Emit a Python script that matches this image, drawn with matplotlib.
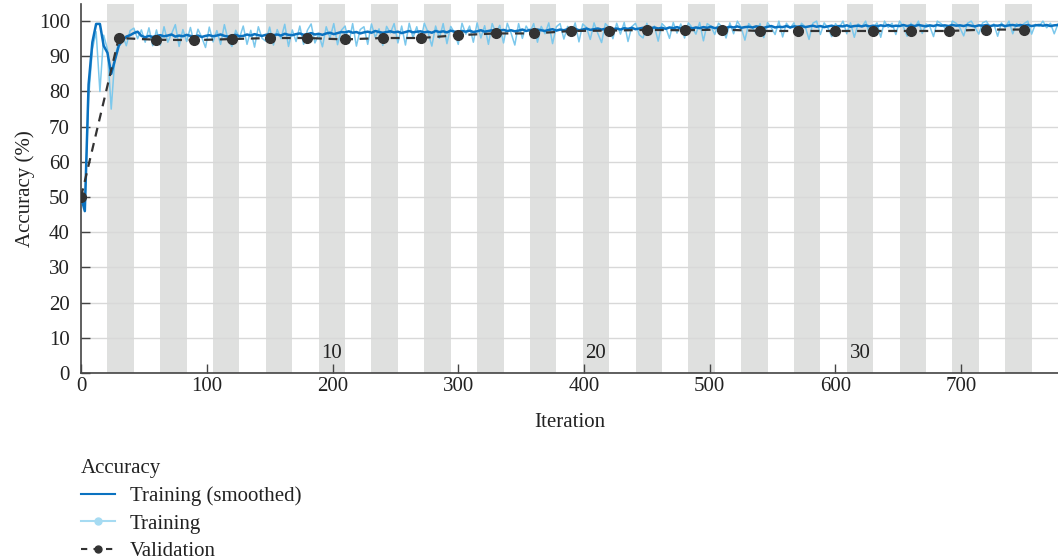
import numpy as np
import matplotlib
matplotlib.use("Agg")
import matplotlib.pyplot as plt
from matplotlib.lines import Line2D

# training accuracy sampled every 3 iterations (0, 3, ..., 777)
train_raw = [
    50, 47, 78, 92, 97, 80, 96, 92, 75, 90,
    94, 96.1, 93, 97.3, 98, 95, 97.5, 94, 98.1, 93,
    97.5, 93.2, 98.4, 94, 96.4, 99, 92.8, 97.6, 94.2, 98.2,
    93.6, 97.7, 95.4, 92.5, 98.3, 94.1, 97.3, 93.4, 99, 94.6,
    92.8, 97.4, 95.2, 98.6, 93.4, 97.4, 92.6, 98.4, 95.1, 94.3,
    98.3, 93.2, 97.6, 95, 99.1, 92.8, 97.5, 94.2, 98.6, 93.4,
    97.4, 99.2, 93.8, 96.3, 92.7, 98.4, 95.2, 99.3, 93.3, 97.4,
    98.6, 93.7, 99.3, 92.9, 97.6, 98.4, 93.4, 99.2, 95.4, 97.8,
    93.1, 98.5, 96.6, 99.3, 93.8, 98.6, 93.2, 99.4, 95.3, 98.4,
    94.1, 99.4, 96.8, 92.9, 98.6, 95.1, 99.3, 93.6, 98.5, 96.7,
    93.4, 99.4, 96.3, 98.6, 94, 99.5, 95.2, 98.7, 93.4, 99.3,
    96.6, 98.8, 93.8, 99.4, 96.6, 93.2, 99.3, 95.1, 98.6, 96.8,
    99.3, 94, 98.5, 96.4, 99.5, 93.6, 98.4, 99.3, 94.9, 98.5,
    96.4, 99.5, 94.1, 99.2, 98.2, 94.8, 99.5, 96.5, 93.9, 99.3,
    98.2, 95, 99.4, 96.3, 99.6, 94.2, 98.4, 99.4, 96.1, 95.2,
    99.4, 96.2, 98.6, 94.3, 99.3, 98.2, 95.1, 99.6, 96.6, 99.2,
    95.2, 99.5, 98.2, 96.3, 99.6, 94.4, 99.3, 98.5, 96.2, 99.4,
    98.3, 95.2, 99.5, 96.4, 100, 98.2, 94.6, 99.3, 98.1, 96.5,
    99.3, 95.3, 99.6, 98.1, 96.2, 100, 95.5, 99.4, 98, 99.5,
    96.3, 99.4, 98.4, 94.8, 99.4, 100, 96.2, 99.5, 98.1, 95.6,
    99.3, 98.1, 100, 96.4, 99.5, 95.4, 99.2, 98.4, 100, 96.3,
    98.1, 99.5, 95.4, 100, 98.2, 99.4, 96.2, 100, 98.4, 95.7,
    99.4, 98.1, 100, 96.5, 99.2, 98.5, 95.6, 100, 99.3, 98.1,
    96.3, 100, 99.4, 98.1, 95.8, 99.4, 100, 98.2, 96.3, 99.5,
    100, 98.3, 99.2, 95.7, 99.5, 98.1, 100, 96.4, 99.3, 98.4,
    99.3, 100, 96.3, 99.1, 98.5, 100, 98.1, 99.4, 96.4, 99.2,
]

train_smooth = [
    50, 46, 82, 94, 99.2, 99.2, 93, 91, 85, 89,
    93, 94.5, 95.6, 96, 96.6, 97, 95.8, 95.4, 95.8, 95.5,
    95.8, 96, 95.7, 95.9, 96.2, 95.6, 95.9, 95.7, 96.1, 95.8,
    95.6, 95.9, 95.5, 95.8, 96, 95.7, 95.9, 96.2, 95.8, 95.6,
    95.9, 96.1, 95.7, 95.8, 96.2, 95.9, 96.3, 96, 95.8, 96.1,
    96.3, 96, 96.2, 95.9, 96.4, 96.1, 96, 96.3, 96.5, 96.1,
    96.3, 96.6, 96.2, 96.4, 96.1, 96.5, 96.7, 96.3, 96.6, 96.9,
    96.8, 97.1, 96.7, 96.9, 96.5, 96.8, 97, 96.7, 97.2, 96.9,
    96.7, 96.9, 97.1, 96.8, 97, 96.6, 96.9, 97.2, 96.8, 97,
    97.1, 96.8, 97, 96.7, 97.2, 96.9, 97.1, 96.8, 97.3, 97,
    96.9, 97.2, 97, 97.3, 96.9, 97.1, 97.4, 97, 97.2, 97.4,
    97.1, 97.3, 97.5, 97.2, 97.4, 97.1, 97.3, 97.6, 97.2, 97.5,
    97.3, 97.6, 97.4, 97.2, 97.5, 97.7, 97.3, 97.6, 97.4, 97.7,
    97.5, 97.8, 97.4, 97.6, 97.9, 97.5, 97.7, 97.9, 97.6, 97.8,
    98, 97.7, 97.9, 97.6, 98, 97.8, 98.1, 97.7, 97.9, 98.1,
    97.8, 98, 98.2, 97.9, 98.1, 97.8, 98.2, 98, 98.3, 97.9,
    98.1, 98.3, 97.9, 98.2, 98, 98.3, 98.1, 98.4, 98, 98.2,
    98.3, 98.1, 98.4, 98.2, 98.5, 98.1, 98.3, 98.4, 98.2, 98.5,
    98.3, 98.1, 98.4, 98.6, 98.2, 98.4, 98.3, 98.6, 98.2, 98.5,
    98.4, 98.6, 98.3, 98.5, 98.7, 98.4, 98.6, 98.3, 98.5, 98.7,
    98.4, 98.6, 98.5, 98.8, 98.4, 98.6, 98.7, 98.5, 98.8, 98.5,
    98.7, 98.5, 98.8, 98.6, 98.9, 98.5, 98.7, 98.6, 98.9, 98.6,
    98.8, 98.6, 98.9, 98.7, 98.5, 98.8, 98.6, 98.9, 98.7, 98.8,
    98.6, 98.9, 98.7, 98.8, 98.6, 98.9, 98.7, 98.5, 98.8, 98.7,
    98.9, 98.6, 98.8, 98.7, 98.9, 98.6, 98.8, 98.9, 98.7, 98.9,
    98.7, 98.9, 98.6, 98.8, 98.9, 98.7, 98.9, 98.6, 98.8, 98.9,
]
train_iter = np.arange(0, 778, 3)

# validation every 30 iterations
val_iter = np.arange(0, 751, 30)
val_acc = [50, 95.2, 94.7, 94.6, 94.9, 95.2, 95.2, 94.8, 95.2, 95.2,
           96.0, 96.5, 96.5, 97.2, 97.3, 97.5, 97.4, 97.6, 97.2, 97.2,
           97.2, 97.2, 97.2, 97.2, 97.6, 97.6]

iters_per_epoch = 21
n_epochs = 37
epoch_labels = [10, 20, 30]

plt.rcParams['font.family'] = ['Liberation Serif', 'DejaVu Serif']
plt.rcParams['font.size'] = 15

fig = plt.figure(figsize=(10.58, 5.59), dpi=100)
ax = fig.add_axes([0.0766, 0.3327, 0.9234, 0.661])

# shade every other epoch
for ep in range(2, n_epochs + 1, 2):
    ax.axvspan((ep - 1) * iters_per_epoch, ep * iters_per_epoch,
               color='#dfe0df', lw=0, zorder=0.2)

for ep in epoch_labels:
    ax.text((ep - 0.5) * iters_per_epoch, 5.6, str(ep), ha='center', va='center',
            color='#222222', zorder=3)

ax.plot(train_iter, train_raw, color='#7cc8ec', lw=1.1, zorder=2)
ax.plot(train_iter, train_smooth, color='#0a72c0', lw=1.8, zorder=3)
ax.plot(val_iter, val_acc, color='#333333', lw=1.6, ls=(0, (4, 3)),
        marker='o', ms=7, zorder=4)

ax.set_xlim(0, n_epochs * iters_per_epoch)
ax.set_ylim(0, 105)
ax.set_yticks(range(0, 101, 10))
ax.set_xticks(range(0, 701, 100))
ax.set_axisbelow(True)
ax.yaxis.grid(True, color='#d8d8d8', lw=1.0)
ax.tick_params(direction='in', length=6.5, width=1, color='#444444',
               labelcolor='#222222')
ax.tick_params(axis='y', pad=8)
ax.tick_params(axis='x', pad=3)
for s in ['top', 'right']:
    ax.spines[s].set_visible(False)
for s in ['left', 'bottom']:
    ax.spines[s].set_color('#444444')
    ax.spines[s].set_linewidth(1.2)

ax.set_xlabel('Iteration', color='#222222', labelpad=12)
ax.set_ylabel('Accuracy (%)', color='#222222', labelpad=3)

handles = [
    Line2D([], [], color='#0a72c0', lw=1.5),
    Line2D([], [], color='#a6dbf2', lw=1.5, marker='o', ms=5),
    Line2D([], [], color='#333333', lw=1.5, ls=(0, (3, 3)), marker='o', ms=5),
]
leg = fig.legend(handles, ['Training (smoothed)', 'Training', 'Validation'],
                 title='Accuracy', loc='upper left',
                 bbox_to_anchor=(0.0766, 0.178), frameon=False,
                 alignment='left', borderpad=0, borderaxespad=0,
                 handlelength=1.63, handletextpad=0.72, labelspacing=0.38,
                 fontsize=15, title_fontsize=15)
for t in leg.get_texts():
    t.set_color('#222222')
leg.get_title().set_color('#222222')

fig.savefig('out.png', dpi=100)
